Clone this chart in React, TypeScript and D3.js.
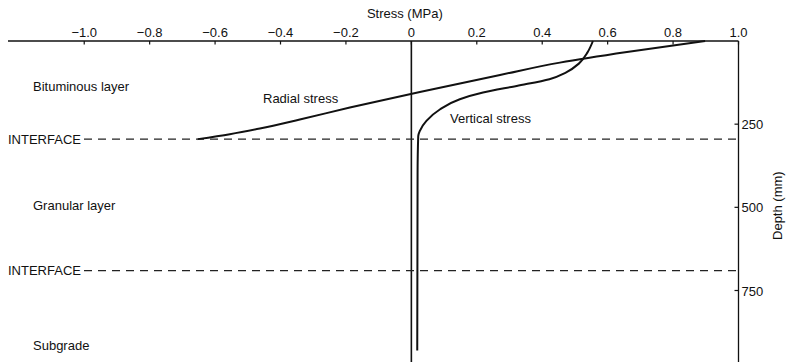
import React from "react";
import * as d3 from "d3";

const W = 788;
const H = 362;

// Stress ticks (MPa) along top axis
const stressTicks = [-1.0, -0.8, -0.6, -0.4, -0.2, 0, 0.2, 0.4, 0.6, 0.8, 1.0];
// Depth ticks (mm) on right axis
const depthTicks = [250, 500, 750];

// Radial stress: [stress MPa, depth mm]
const radialStress: [number, number][] = [
  [0.898, 0], [0.659, 33], [0.454, 65], [0.271, 102], [0.026, 153],
  [-0.188, 200], [-0.341, 236], [-0.463, 263], [-0.555, 280], [-0.653, 295],
];
// Vertical stress: [stress MPa, depth mm]
const verticalStress: [number, number][] = [
  [0.555, 0], [0.538, 35], [0.512, 68], [0.472, 95], [0.422, 115],
  [0.322, 135], [0.219, 155], [0.148, 175], [0.087, 206], [0.046, 240],
  [0.026, 270], [0.021, 286], [0.019, 400], [0.018, 930],
];
// Interface depths (mm)
const interfaces = [295, 690];
// Layer labels and their depths (mm at baseline)
const layerNames = ["Bituminous layer", "Granular layer", "Subgrade"];
const layerDepths = [150, 507, 930];

const fmt = (v: number) => (v < 0 ? "\u2212" + Math.abs(v).toFixed(1) : v === 0 ? "0" : v.toFixed(1));

export default function App() {
  const x = d3.scaleLinear().domain([-1.233, 1.0]).range([8, 738.5]);
  const y = d3.scaleLinear().domain([0, 750]).range([41, 290.5]);
  const depthMax = y.invert(H);

  const line = d3
    .line<[number, number]>()
    .x((d) => x(d[0]))
    .y((d) => y(d[1]))
    .curve(d3.curveMonotoneY);

  const font = "Liberation Sans, Arial, Helvetica, sans-serif";
  const right = x(1.0);

  return (
    <div style={{ position: "absolute", left: 0, top: 0 }}>
      <svg width={W} height={H} style={{ display: "block", background: "#fff" }} fontFamily={font}>
        {/* Top axis */}
        <line x1={x(-1.233)} x2={right} y1={y(0)} y2={y(0)} stroke="#111" strokeWidth={1.4} />
        {stressTicks.map((t) => (
          <g key={t}>
            <line x1={x(t)} x2={x(t)} y1={y(0)} y2={y(0) + 3.5} stroke="#111" strokeWidth={1.2} />
            <text x={x(t)} y={36.5} textAnchor="middle" fontSize={13} fill="#111">
              {fmt(t)}
            </text>
          </g>
        ))}
        <text x={x(-0.02)} y={17.5} textAnchor="middle" fontSize={13} fill="#111">
          Stress (MPa)
        </text>

        {/* Right depth axis */}
        <line x1={right} x2={right} y1={y(0)} y2={y(depthMax)} stroke="#111" strokeWidth={1.3} />
        {depthTicks.map((t) => (
          <g key={t}>
            <line x1={right - 4} x2={right} y1={y(t)} y2={y(t)} stroke="#111" strokeWidth={1.2} />
            <text x={right + 3} y={y(t) + 5} fontSize={13} fill="#111">
              {t}
            </text>
          </g>
        ))}
        <text
          transform={`translate(${782},${y(495)}) rotate(-90)`}
          textAnchor="middle"
          fontSize={13}
          fill="#111"
        >
          Depth (mm)
        </text>

        {/* Zero stress axis */}
        <line x1={x(0)} x2={x(0)} y1={y(0)} y2={y(depthMax)} stroke="#111" strokeWidth={1.6} />

        {/* Interfaces */}
        {interfaces.map((d) => (
          <g key={d}>
            <line
              x1={84}
              x2={right}
              y1={y(d)}
              y2={y(d)}
              stroke="#222"
              strokeWidth={1.3}
              strokeDasharray="8,6"
            />
            <text x={8} y={y(d) + 4.5} fontSize={13} fill="#111">
              INTERFACE
            </text>
          </g>
        ))}

        {/* Layer labels */}
        {layerNames.map((n, i) => (
          <text key={n} x={33} y={y(layerDepths[i])} fontSize={13} fill="#111">
            {n}
          </text>
        ))}

        {/* Curves */}
        <path d={line(radialStress) || ""} fill="none" stroke="#111" strokeWidth={2} />
        <path d={line(verticalStress) || ""} fill="none" stroke="#111" strokeWidth={2} />

        <text x={263} y={103} fontSize={13} fill="#111">
          Radial stress
        </text>
        <text x={450} y={123} fontSize={13} fill="#111">
          Vertical stress
        </text>
      </svg>
    </div>
  );
}
